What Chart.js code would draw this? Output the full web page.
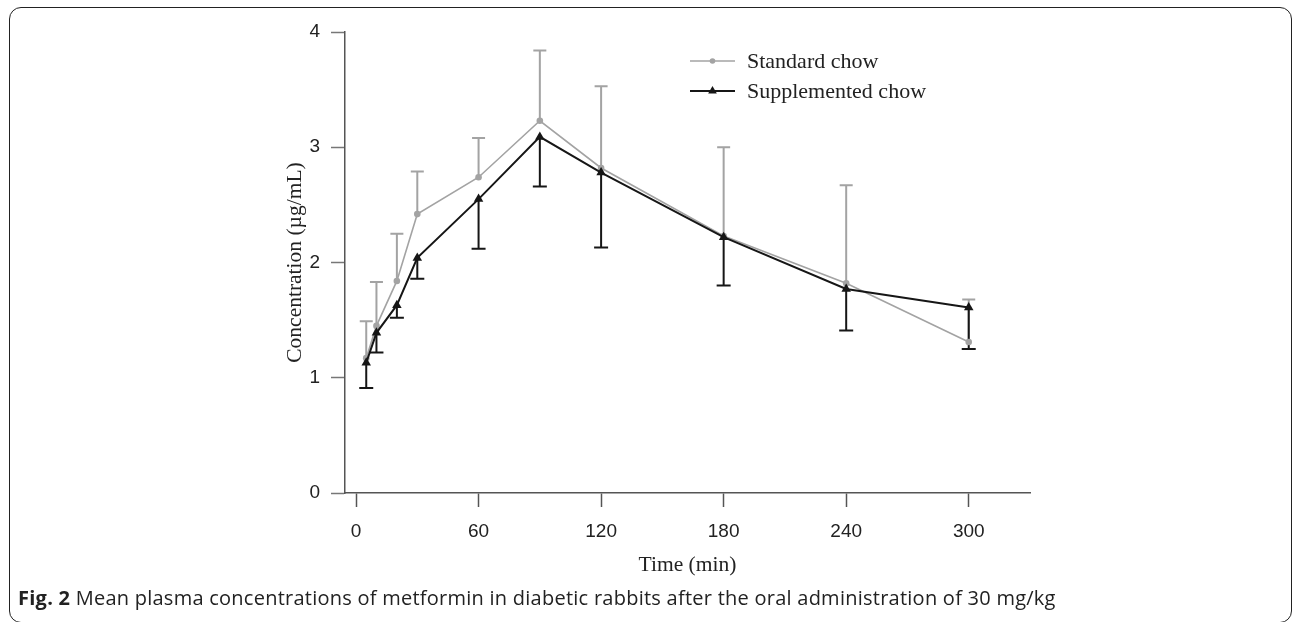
<!DOCTYPE html>
<html><head><meta charset="utf-8">
<script src="https://cdn.jsdelivr.net/npm/chart.js@4.4.1/dist/chart.umd.min.js"></script>
<style>
html,body{margin:0;padding:0;background:#fff;}
#wrap{position:relative;width:1292px;height:622px;overflow:hidden;background:#fff;}
#frame{position:absolute;left:9px;top:7px;width:1283px;height:616px;border:1.5px solid #222;border-radius:12px;box-sizing:border-box;}
canvas{position:absolute;left:0;top:0;}
#caption{position:absolute;left:18px;top:584px;font-family:'Open Sans',sans-serif;font-size:20px;letter-spacing:0.25px;color:#222;white-space:nowrap;}
#caption b{font-weight:700;}
</style></head><body>
<div id="wrap">
<div id="frame"></div>
<canvas id="c" width="1292" height="622"></canvas>
<div id="caption"><b>Fig. 2</b> Mean plasma concentrations of metformin in diabetic rabbits after the oral administration of 30 mg/kg</div>
</div>
<script>
const timesMin = [5, 10, 20, 30, 60, 90, 120, 180, 240, 300];
const standardMean = [1.17, 1.45, 1.84, 2.42, 2.74, 3.23, 2.82, 2.23, 1.82, 1.31];
const standardSD = [0.32, 0.38, 0.41, 0.37, 0.34, 0.61, 0.71, 0.77, 0.85, 0.37];
const supplementedMean = [1.13, 1.39, 1.63, 2.04, 2.55, 3.09, 2.78, 2.22, 1.77, 1.61];
const supplementedSD = [0.22, 0.17, 0.11, 0.18, 0.43, 0.43, 0.65, 0.42, 0.36, 0.36];
const xTickValues = [0, 60, 120, 180, 240, 300];
const yTickValues = [0, 1, 2, 3, 4];
const seriesNames = ['Standard chow', 'Supplemented chow'];
const xAxisTitle = 'Time (min)';
const yAxisTitle = 'Concentration (\u00b5g/mL)';

const GRAY = '#a3a3a3';
const BLACK = '#161616';

const errorBarPlugin = {
  id: 'errorBars',
  beforeDatasetsDraw(chart) {
    const {ctx, scales: {x, y}} = chart;
    chart.data.datasets.forEach((ds) => {
      const eb = ds.errorBar;
      ctx.save();
      ctx.strokeStyle = ds.borderColor;
      ctx.lineWidth = eb.width;
      ds.data.forEach((p, i) => {
        const px = x.getPixelForValue(p.x);
        const py = y.getPixelForValue(p.y);
        const pe = y.getPixelForValue(p.y + eb.dir * eb.sd[i]);
        ctx.beginPath();
        ctx.moveTo(px, py);
        ctx.lineTo(px, pe);
        ctx.moveTo(px - eb.cap, pe);
        ctx.lineTo(px + eb.cap, pe);
        ctx.stroke();
      });
      ctx.restore();
    });
  }
};

const legendPlugin = {
  id: 'customLegend',
  afterDraw(chart) {
    const {ctx, chartArea} = chart;
    const x0 = chartArea.left + 345;
    const y0 = chartArea.top + 29;
    const gap = 30;
    [0, 1].forEach((di, k) => {
      const ds = chart.data.datasets[di];
      const yy = y0 + k * gap;
      ctx.save();
      ctx.strokeStyle = ds.borderColor;
      ctx.lineWidth = ds.borderWidth;
      ctx.beginPath();
      ctx.moveTo(x0, yy);
      ctx.lineTo(x0 + 45, yy);
      ctx.stroke();
      ctx.fillStyle = ds.pointBackgroundColor;
      Chart.helpers.drawPoint(ctx, {pointStyle: ds.pointStyle, radius: ds.pointRadius - 0.5, rotation: 0, borderWidth: 0}, x0 + 22.5, yy);
      ctx.fillStyle = '#222';
      ctx.font = '22px "Liberation Serif", serif';
      ctx.textBaseline = 'middle';
      ctx.textAlign = 'left';
      ctx.fillText(ds.label, x0 + 57, yy + 1);
      ctx.restore();
    });
  }
};

const toPoints = (xs, ys) => xs.map((t, i) => ({x: t, y: ys[i]}));

new Chart(document.getElementById('c'), {
  type: 'line',
  data: {
    datasets: [
      {
        label: seriesNames[0],
        data: toPoints(timesMin, standardMean),
        borderColor: GRAY,
        backgroundColor: GRAY,
        pointBackgroundColor: GRAY,
        pointBorderWidth: 0,
        borderWidth: 1.6,
        pointStyle: 'circle',
        pointRadius: 3.3,
        order: 2,
        errorBar: {sd: standardSD, dir: 1, width: 2, cap: 6.5}
      },
      {
        label: seriesNames[1],
        data: toPoints(timesMin, supplementedMean),
        borderColor: BLACK,
        backgroundColor: BLACK,
        pointBackgroundColor: BLACK,
        pointBorderWidth: 0,
        borderWidth: 2,
        pointStyle: 'triangle',
        pointRadius: 5.5,
        order: 1,
        errorBar: {sd: supplementedSD, dir: -1, width: 2, cap: 7}
      }
    ]
  },
  options: {
    responsive: false,
    animation: false,
    devicePixelRatio: 1,
    layout: {padding: {left: 282, top: 32, right: 262, bottom: 44}},
    plugins: {legend: {display: false}, tooltip: {enabled: false}},
    elements: {line: {tension: 0}},
    scales: {
      x: {
        type: 'linear',
        min: -5.4,
        max: 330,
        afterBuildTicks(s) { s.ticks = xTickValues.map(v => ({value: v})); },
        afterFit(s) { s.height = 85; },
        grid: {drawOnChartArea: false, drawTicks: true, tickLength: 14, color: '#555', tickWidth: 1.5},
        border: {display: true, color: '#555', width: 1.5},
        ticks: {font: {family: 'Liberation Sans', size: 19}, color: '#222', padding: 13, maxRotation: 0},
        title: {display: true, text: xAxisTitle, font: {family: 'Liberation Serif', size: 21.5}, color: '#222', padding: 0}
      },
      y: {
        type: 'linear',
        min: 0,
        max: 4,
        afterBuildTicks(s) { s.ticks = yTickValues.map(v => ({value: v})); },
        afterFit(s) { s.width = 63; },
        grid: {drawOnChartArea: false, drawTicks: true, tickLength: 14, color: '#777', tickWidth: 1.5},
        border: {display: true, color: '#555', width: 1.5},
        ticks: {font: {family: 'Liberation Sans', size: 19}, color: '#222', padding: 11},
        title: {display: true, text: yAxisTitle, font: {family: 'Liberation Serif', size: 21.5}, color: '#222', padding: 0}
      }
    }
  },
  plugins: [errorBarPlugin, legendPlugin]
});
</script>
</body></html>
